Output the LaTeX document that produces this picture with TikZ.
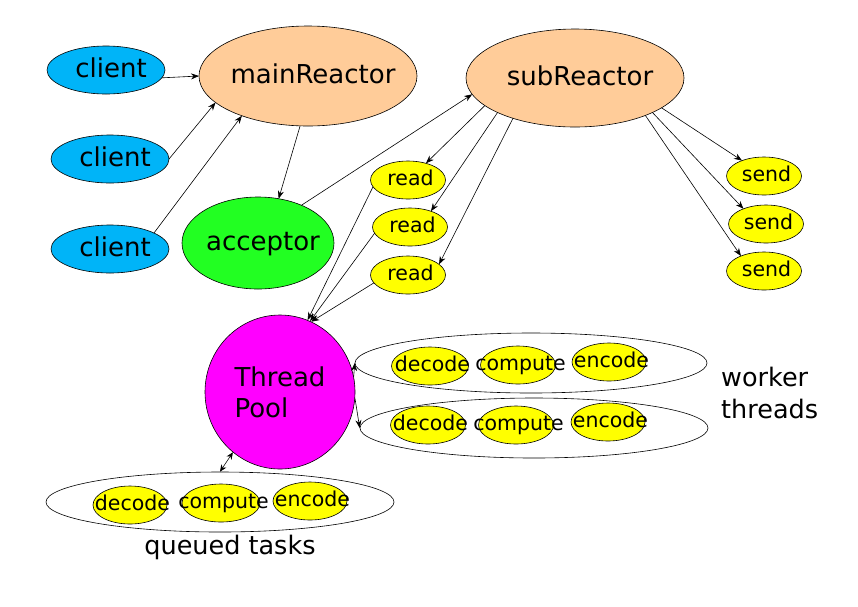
\documentclass[tikz,border=0pt]{standalone}
\usepackage{fontspec}
\usepackage{xcolor}
\usetikzlibrary{shapes.geometric, arrows.meta, positioning}
\newfontfamily\diagfont{DejaVu Sans}
\definecolor{clientblue}{HTML}{00B4F8}
\definecolor{reactorpeach}{HTML}{FFCC99}
\definecolor{acceptgreen}{HTML}{22FF22}
\definecolor{poolmagenta}{HTML}{FF00FF}
\definecolor{taskyellow}{HTML}{FFFF00}
\tikzset{
  blob/.style={ellipse, draw, line width=0.6pt, inner sep=0pt, outer sep=0pt,
               execute at begin node={\hbox to 0pt\bgroup\vrule height 0.76em depth 0.22em width 0pt\hss\hskip #1},
               execute at end node={\hss\egroup}},
  blob/.default=0pt,
  bigblob/.style={blob=10pt, font=\diagfont\fontsize{26}{30}\selectfont},
  taskblob/.style={blob=5pt, fill=taskyellow, font=\diagfont\fontsize{20.5}{23}\selectfont,
                   minimum width=75pt, minimum height=38pt},
  group/.style={ellipse, draw, line width=0.6pt, minimum width=350pt, minimum height=60pt},
  flow/.style={-{Stealth[length=8pt, width=6pt]}, line width=0.6pt},
  lbl/.style={font=\diagfont\fontsize{25.5}{32}\selectfont, align=left, inner sep=0pt},
}
\begin{document}
\begin{tikzpicture}[x=1pt, y=-1pt]
  \useasboundingbox (0,0) rectangle (858,606);

  % clients and reactors
  \node[bigblob, fill=clientblue, minimum width=118pt, minimum height=48pt] (c1) at (106,70) {client};
  \node[bigblob, fill=clientblue, minimum width=118pt, minimum height=48pt] (c2) at (110,159) {client};
  \node[bigblob, fill=clientblue, minimum width=118pt, minimum height=48pt] (c3) at (110,249) {client};
  \node[bigblob, fill=reactorpeach, minimum width=218pt, minimum height=100pt] (main) at (308,76) {mainReactor};
  \node[bigblob, fill=reactorpeach, minimum width=218pt, minimum height=98pt] (sub) at (575,78) {subReactor};
  \node[bigblob, fill=acceptgreen, minimum width=152pt, minimum height=92pt] (acc) at (258,243) {acceptor};
  \node[ellipse, draw, line width=0.6pt, fill=poolmagenta, inner sep=0pt,
        minimum width=150pt, minimum height=154pt, font=\diagfont\fontsize{26}{31}\selectfont,
        align=left] (pool) at (280,392) {Thread\\Pool};

  % read / send
  \node[taskblob] (r1) at (408,180) {read};
  \node[taskblob] (r2) at (410,227) {read};
  \node[taskblob] (r3) at (408,275) {read};
  \node[taskblob] (s1) at (764,176) {send};
  \node[taskblob] (s2) at (766,224) {send};
  \node[taskblob] (s3) at (764,271) {send};

  % worker threads
  \node[group, minimum width=352pt] (w1) at (531,363) {};
  \node[group, minimum width=348pt] (w2) at (534,428) {};
  \node[taskblob, minimum width=77pt] (w1dec) at (430,366) {decode};
  \node[taskblob] (w1com) at (518,365) {compute};
  \node[taskblob, minimum width=74pt] (w1enc) at (609,362) {encode};
  \node[taskblob] (w2dec) at (428,425) {decode};
  \node[taskblob] (w2com) at (516,425) {compute};
  \node[taskblob, minimum width=74pt] (w2enc) at (608,422) {encode};
  \node[lbl, anchor=west] (wlbl) at (721,393) {worker\\threads};

  % queued tasks
  \node[group, minimum width=348pt] (q) at (220,502) {};
  \node[taskblob, minimum width=74pt] (qdec) at (130,505) {decode};
  \node[taskblob, minimum width=78pt] (qcom) at (221,503) {compute};
  \node[taskblob, minimum width=74pt] (qenc) at (310,501) {encode};
  \node[lbl] (qlbl) at (230,547) {queued tasks};

  % connectors
  \draw[flow] (c1.-8) -- (main.west);
  \draw[flow] (c2.east) -- (main.196);
  \draw[flow] (c3.20) -- (main.211);
  \draw[flow] (main.261) -- (acc.65);
  \draw[flow] (acc.41) -- (sub.189);
  \draw[flow] (sub.197) -- (r1.43);
  \draw[flow] (sub.204) -- (r2.37);
  \draw[flow] (sub.213) -- (r3.19);
  \draw[flow] (r1.191) -- (pool.69);
  \draw[flow] (r2.190) -- (pool.67);
  \draw[flow] (r3.193) -- (pool.66);
  \draw[flow] (sub.-19) -- (s1.145);
  \draw[flow] (sub.-24) -- (s2.146);
  \draw[flow] (sub.-28) -- (s3.147);
  \draw[flow] (pool.12) -- (w1.west);
  \draw[flow] (pool.-5) -- (w2.west);
  \draw[flow, {Stealth[length=7pt, width=6pt]}-{Stealth[length=7pt, width=6pt]}] (q.north) -- (pool.232);
\end{tikzpicture}
\end{document}
